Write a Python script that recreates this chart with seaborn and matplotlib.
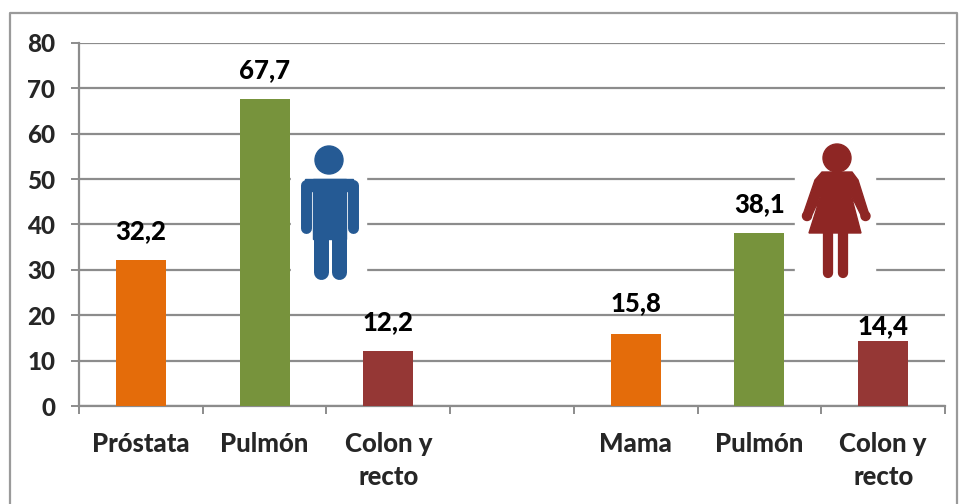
import numpy as np
import pandas as pd
import seaborn as sns
import matplotlib
matplotlib.use('Agg')
import matplotlib.pyplot as plt
from matplotlib.patches import Rectangle, Circle, Polygon

# Values (slot 3 is the empty gap between men and women)
slots = [0, 1, 2, 3, 4, 5, 6]
tick_labels = ['Próstata', 'Pulmón', 'Colon y\nrecto', '', 'Mama', 'Pulmón', 'Colon y\nrecto']
values = [32.2, 67.7, 12.2, np.nan, 15.8, 38.1, 14.4]
value_labels = ['32,2', '67,7', '12,2', '', '15,8', '38,1', '14,4']
label_offsets = [12, 12, 12, 0, 14, 12, 2]
bar_colors = ['#E46C0A', '#77933C', '#953735', '#FFFFFF', '#E46C0A', '#77933C', '#953735']
y_ticks = [0, 10, 20, 30, 40, 50, 60, 70, 80]

W, H = 960, 504
GREY = '#8C8C8C'
FS = 18.5

sns.set_theme(style='white')
plt.rcParams['font.family'] = ['Lato', 'DejaVu Sans']

df = pd.DataFrame({'slot': slots, 'value': values})

fig = plt.figure(figsize=(W / 100, H / 100), dpi=100)
ax = fig.add_axes([79 / W, 1 - 406 / H, (945 - 79) / W, (406 - 43) / H])

sns.barplot(data=df, x='slot', y='value', hue='slot', palette=bar_colors, legend=False,
            width=0.405, saturation=1, linewidth=0, ax=ax, zorder=3)

ax.set_xlim(-0.5, 6.5)
ax.set_ylim(0, 80)
ax.set_yticks(y_ticks)
ax.set_xlabel('')
ax.set_ylabel('')
ax.yaxis.grid(True, color=GREY, lw=1.6, zorder=1)
ax.set_axisbelow(True)

for s in ['top', 'right']:
    ax.spines[s].set_visible(False)
for s in ['left', 'bottom']:
    ax.spines[s].set_color(GREY)
    ax.spines[s].set_linewidth(1.6)

ax.tick_params(axis='y', length=6, width=1.4, color=GREY, left=True, labelsize=17.5, pad=11)
ax.set_xticks(np.arange(-0.5, 7), minor=True)
ax.tick_params(axis='x', which='minor', length=6, width=1.4, color=GREY, bottom=True)
ax.tick_params(axis='x', which='major', length=0, labelsize=FS, pad=18.5)
ax.set_xticks(slots)
ax.set_xticklabels(tick_labels, linespacing=1.45, va='top')
for t in ax.get_yticklabels() + ax.get_xticklabels():
    t.set_fontweight(900)

# value labels above the bars
for slot, val, txt, off in zip(slots, values, value_labels, label_offsets):
    if txt:
        ax.annotate(txt, (slot, val), xytext=(0, off), textcoords='offset points',
                    ha='center', va='bottom', fontsize=FS, fontweight=900, color='black',
                    zorder=6)

# overlay in pixel coordinates for the outer frame and the two person icons
over = fig.add_axes([0, 0, 1, 1], zorder=5)
over.set_xlim(0, W)
over.set_ylim(H, 0)
over.axis('off')
over.patch.set_alpha(0)

# chart frame, bottom edge runs off the picture
over.plot([10, 10, 957, 957], [510, 13, 13, 510], color='#9A9A9A', lw=1.6)

blue = '#255A94'
red = '#8E2624'

# man
over.add_patch(Rectangle((291, 148), 75, 130, color='white', zorder=2))
over.add_patch(Circle((329, 160), 14, color=blue, zorder=3))
over.add_patch(Rectangle((313, 179), 33, 60, color=blue, zorder=3))
over.plot([305.5, 305.5, 352.5, 352.5], [228, 184.5, 184.5, 228], color=blue, lw=7.9,
          solid_capstyle='round', solid_joinstyle='round', zorder=3)
over.add_patch(Rectangle((305, 179), 48, 12, color=blue, zorder=3))
for x in [320.5, 338.5]:
    over.plot([x, x], [225, 271.5], color=blue, lw=10.8, solid_capstyle='round', zorder=3)

# woman
over.add_patch(Rectangle((795, 144), 80, 134, color='white', zorder=2))
over.add_patch(Circle((837, 158), 14, color=red, zorder=3))
woman_body = [(822, 172), (852, 172), (858, 180), (869, 215), (862, 217), (851, 195),
              (861, 233), (809, 233), (821, 195), (811, 217), (803, 215), (815, 180)]
over.add_patch(Polygon(woman_body, closed=True, color=red, zorder=3))
over.add_patch(Circle((807, 216), 4.5, color=red, zorder=3))
over.add_patch(Circle((865.5, 216), 4.5, color=red, zorder=3))
for x in [828, 842.5]:
    over.plot([x, x], [230, 273], color=red, lw=7.4, solid_capstyle='round', zorder=3)

fig.savefig('out.png', dpi=100, facecolor='white')
